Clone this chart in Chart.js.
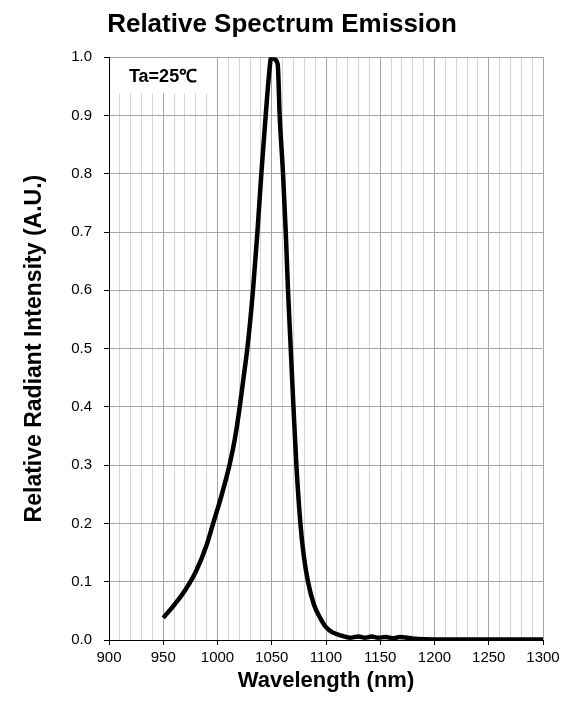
<!DOCTYPE html>
<html>
<head>
<meta charset="utf-8">
<script src="https://cdn.jsdelivr.net/npm/chart.js@4.4.0/dist/chart.umd.min.js"></script>
<style>
    body { margin: 0; background: #fff; }
    #wrap { width: 570px; height: 701px; }
</style>
</head>
<body>
<div id="wrap"><canvas id="spectrumChart" width="570" height="701"></canvas></div>
<script>
// Wavelength (nm) and relative intensity
const wavelengths = [950, 960, 970, 980, 990, 996, 1004, 1011, 1016, 1020.5, 1024, 1027.5, 1032.7, 1036.8, 1040.4, 1044.4, 1047.5, 1049.5, 1052, 1055.5,
    1057.3, 1060.4, 1062.9, 1065, 1067.5, 1070, 1072.7, 1076.4, 1079.5, 1083.4, 1089, 1094, 1100, 1106, 1115,
    1122, 1130, 1136, 1142, 1148, 1155, 1162, 1168, 1175, 1182, 1200, 1250, 1300];
const intensity = [0.038, 0.06, 0.085, 0.117, 0.163, 0.2, 0.25, 0.3, 0.345, 0.4, 0.45, 0.5, 0.6, 0.7, 0.8, 0.9, 0.97, 1.0, 0.997, 0.988,
    0.9, 0.8, 0.7, 0.6, 0.5, 0.4, 0.3, 0.2, 0.145, 0.1, 0.06, 0.04, 0.022, 0.013, 0.007,
    0.004, 0.006, 0.004, 0.006, 0.004, 0.005, 0.003, 0.005, 0.004, 0.002, 0.001, 0.001, 0.001];

const xMin = 900, xMax = 1300, xStep = 10, xLabelStep = 50;
const yMin = 0, yMax = 1, yStep = 0.1;

const fontFamily = '"Liberation Sans", Arial, sans-serif';

// White label box "Ta=25℃" in the upper left corner of the plot
const conditionLabel = {
    id: 'conditionLabel',
    beforeDatasetsDraw(chart) {
        const ctx = chart.ctx;
        const x = chart.scales.x;
        const y = chart.scales.y;
        const left = x.getPixelForValue(900) + 1;
        const right = x.getPixelForValue(995);
        const top = y.getPixelForValue(1.0) + 1;
        const bottom = y.getPixelForValue(0.938);
        ctx.save();
        ctx.fillStyle = '#fff';
        ctx.fillRect(left, top, right - left, bottom - top);
        ctx.fillStyle = '#000';
        ctx.font = 'bold 18px ' + fontFamily;
        ctx.textAlign = 'center';
        ctx.textBaseline = 'middle';
        ctx.fillText('Ta=25℃', (left + right) / 2 + 2, (top + bottom) / 2 + 1);
        ctx.restore();
    }
};

const ctxSpectrum = document.getElementById('spectrumChart').getContext('2d');

new Chart(ctxSpectrum, {
    type: 'line',
    data: {
        datasets: [{
            data: wavelengths.map((w, i) => ({ x: w, y: intensity[i] })),
            borderColor: '#000',
            borderWidth: 4.5,
            pointRadius: 0,
            fill: false,
            cubicInterpolationMode: 'monotone'
        }]
    },
    options: {
        responsive: false,
        animation: false,
        layout: { padding: { left: 21, right: 27, top: 0, bottom: 0 } },
        plugins: {
            legend: { display: false },
            tooltip: { enabled: false },
            title: {
                display: true,
                text: 'Relative Spectrum Emission',
                color: '#000',
                font: { family: fontFamily, size: 26, weight: 'bold' },
                padding: { top: 9, bottom: 17 }
            }
        },
        scales: {
            x: {
                type: 'linear',
                min: xMin,
                max: xMax,
                afterFit: scale => { scale.height = 61; },
                ticks: {
                    stepSize: xStep,
                    autoSkip: false,
                    maxRotation: 0,
                    padding: 4,
                    color: '#000',
                    font: { family: fontFamily, size: 15 },
                    callback: v => (v % xLabelStep === 0 ? v : '')
                },
                grid: {
                    color: c => (c.tick && c.tick.value % xLabelStep === 0 ? '#a6a6a6' : '#d4d4d4'),
                    tickColor: c => (c.tick && c.tick.value % xLabelStep === 0 ? '#000' : 'rgba(0,0,0,0)'),
                    tickLength: 5
                },
                border: { color: '#000', width: 1 },
                title: {
                    display: true,
                    text: 'Wavelength (nm)',
                    color: '#000',
                    font: { family: fontFamily, size: 22, weight: 'bold' },
                    padding: { top: 0, bottom: 7 }
                }
            },
            y: {
                min: yMin,
                max: yMax,
                afterFit: scale => { scale.width = 88; },
                ticks: {
                    stepSize: yStep,
                    padding: 12,
                    color: '#000',
                    font: { family: fontFamily, size: 15 },
                    callback: v => v.toFixed(1)
                },
                grid: {
                    color: '#a6a6a6',
                    tickColor: '#000',
                    tickLength: 5
                },
                border: { color: '#000', width: 1 },
                title: {
                    display: true,
                    text: 'Relative Radiant Intensity (A.U.)',
                    color: '#000',
                    font: { family: fontFamily, size: 23, weight: 'bold' },
                    padding: { top: 0, bottom: 0 }
                }
            }
        }
    },
    plugins: [conditionLabel]
});
</script>
</body>
</html>
